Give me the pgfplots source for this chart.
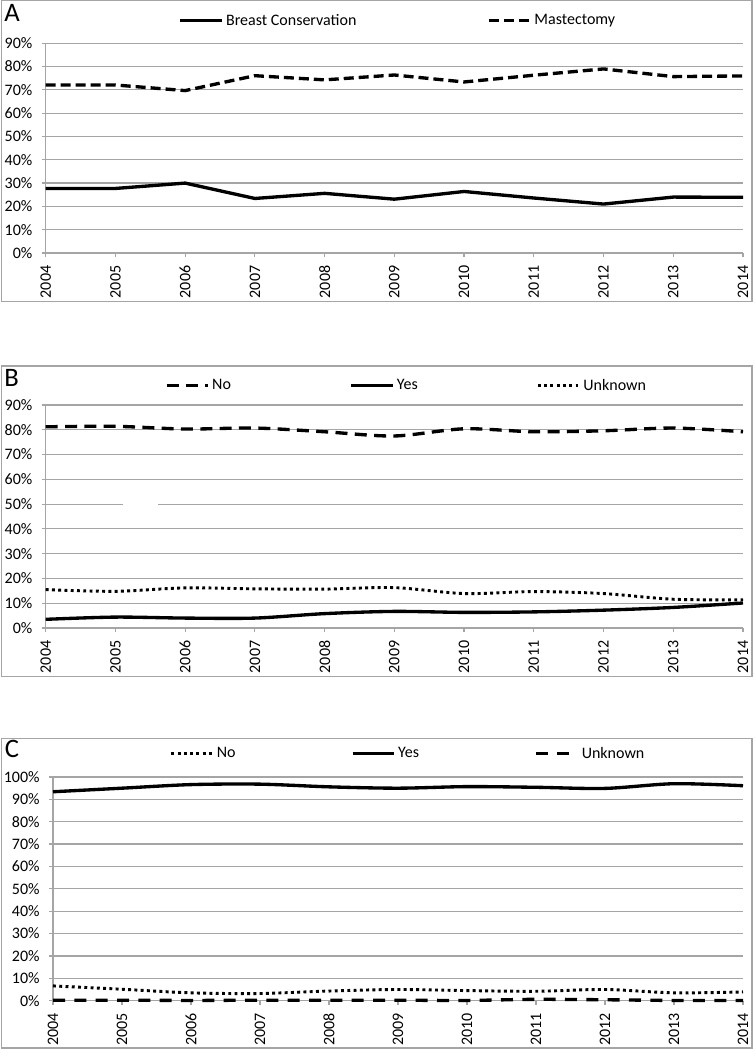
\documentclass[border=0pt]{standalone}
\usepackage{fontspec}
\setmainfont{Carlito}
\usepackage{pgfplots}
\pgfplotsset{compat=1.18}
\definecolor{gridgray}{RGB}{165,165,165}
\pgfplotsset{
  panel/.style={
    scale only axis,
    anchor=south west,
    xmin=2004, xmax=2014,
    xtick={2004,2005,...,2014},
    ymin=0,
    clip=false,
    axis lines*=left,
    axis line style={gridgray, line width=0.9pt},
    ymajorgrids,
    major grid style={gridgray, line width=0.9pt},
    tick align=outside,
    major tick length=3pt,
    tick style={gridgray, line width=0.9pt},
    /pgf/number format/assume math mode=true,
    tick label style={font=\fontsize{12}{14}\selectfont, black},
    xticklabel style={rotate=90, anchor=east},
    xticklabel shift=3pt,
    xticklabel={\pgfmathprintnumber[1000 sep={}]{\tick}},
    yticklabel={\pgfmathprintnumber{\tick}\%},
    yticklabel shift=3.5pt,
    legend style={draw=none, fill=none, inner sep=0pt, anchor=west,
      font=\fontsize{12}{14}\selectfont, legend cell align=left},
    legend image code/.code={\draw[##1] (0pt,0pt) -- (31pt,0pt);},
  },
  solidl/.style={black, line width=2.5pt},
  dashA/.style={black, line width=2.5pt, dash pattern=on 7.5pt off 3.75pt},
  dashB/.style={black, line width=2.5pt, dash pattern=on 9pt off 5.5pt},
  dashC/.style={black, line width=2.5pt, dash pattern=on 9pt off 7pt},
  dotl/.style={black, line width=2.2pt, dash pattern=on 2.2pt off 2.5pt},
}
\begin{document}
\begin{tikzpicture}
\useasboundingbox (0,0) rectangle (565.5pt,787.5pt);
\draw[gridgray, line width=0.9pt] (1.1pt,561.2pt) rectangle (564pt,787.1pt);
\draw[gridgray, line width=0.9pt] (1.1pt,280pt) rectangle (564pt,513pt);
\draw[gridgray, line width=0.9pt] (1.1pt,1.5pt) rectangle (564pt,233.8pt);
\node[anchor=base west, inner sep=0pt, font=\fontsize{20}{24}\selectfont] at (3pt,771pt) {A};
\node[anchor=base west, inner sep=0pt, font=\fontsize{20}{24}\selectfont] at (3pt,497.25pt) {B};
\node[anchor=base west, inner sep=0pt, font=\fontsize{20}{24}\selectfont] at (3.5pt,219pt) {C};

% Panel A
\begin{axis}[panel, at={(34.275pt,597.75pt)}, width=522.975pt, height=157.275pt,
  ymax=90, ytick={0,10,...,90},
  legend columns=2,
  legend style={at={(0.1905,1.108)}, /tikz/every even column/.append style={column sep=96pt}}]
\addplot[solidl] coordinates {(2004,27.7) (2005,27.7) (2006,30.0) (2007,23.4) (2008,25.6) (2009,23.1) (2010,26.4) (2011,23.6) (2012,21.0) (2013,24.0) (2014,23.9)};
\addlegendentry{Breast Conservation}
\addplot[dashA] coordinates {(2004,72.1) (2005,72.1) (2006,69.7) (2007,76.1) (2008,74.3) (2009,76.4) (2010,73.4) (2011,76.3) (2012,79.0) (2013,75.7) (2014,76.0)};
\addlegendentry{Mastectomy}
\end{axis}

% Panel B
\begin{axis}[panel, at={(34.275pt,316.5pt)}, width=522.975pt, height=167.25pt,
  ymax=90, ytick={0,10,...,90},
  legend columns=3,
  legend style={at={(0.1705,1.0864)}, /tikz/every even column/.append style={column sep=87pt}}]
\fill[white] (axis cs:2005.11,49) rectangle (axis cs:2005.61,51);
\addplot[dashB, smooth] coordinates {(2004,81.2) (2005,81.4) (2006,80.3) (2007,80.7) (2008,79.2) (2009,77.5) (2010,80.4) (2011,79.2) (2012,79.6) (2013,80.7) (2014,79.2)};
\addlegendentry{No}
\addplot[solidl, smooth] coordinates {(2004,3.5) (2005,4.4) (2006,4.0) (2007,4.0) (2008,5.8) (2009,6.7) (2010,6.3) (2011,6.5) (2012,7.2) (2013,8.3) (2014,10.1)};
\addlegendentry{Yes}
\addplot[dotl, smooth] coordinates {(2004,15.5) (2005,14.8) (2006,16.2) (2007,15.8) (2008,15.7) (2009,16.3) (2010,13.9) (2011,14.7) (2012,13.9) (2013,11.6) (2014,11.4)};
\addlegendentry{Unknown}
\end{axis}

% Panel C
\begin{axis}[panel, at={(39.75pt,37pt)}, width=517.5pt, height=167.75pt,
  ymax=100, ytick={0,10,...,100},
  legend columns=3,
  legend style={at={(0.169,1.1048)}, /tikz/every even column/.append style={column sep=84.5pt}}]
\addplot[dotl, smooth] coordinates {(2004,6.6) (2005,5.1) (2006,3.5) (2007,3.2) (2008,4.3) (2009,5.0) (2010,4.5) (2011,4.2) (2012,5.0) (2013,3.5) (2014,3.9)};
\addlegendentry{No}
\addplot[solidl, smooth] coordinates {(2004,93.4) (2005,95.0) (2006,96.6) (2007,96.8) (2008,95.6) (2009,95.0) (2010,95.7) (2011,95.4) (2012,94.9) (2013,97.0) (2014,96.1)};
\addlegendentry{Yes}
\addplot[dashC, smooth] coordinates {(2004,0.2) (2005,0.2) (2006,0.1) (2007,0.2) (2008,0.2) (2009,0.2) (2010,0.1) (2011,0.6) (2012,0.4) (2013,0.1) (2014,0.1)};
\addlegendentry{Unknown}
\end{axis}
\end{tikzpicture}
\end{document}
